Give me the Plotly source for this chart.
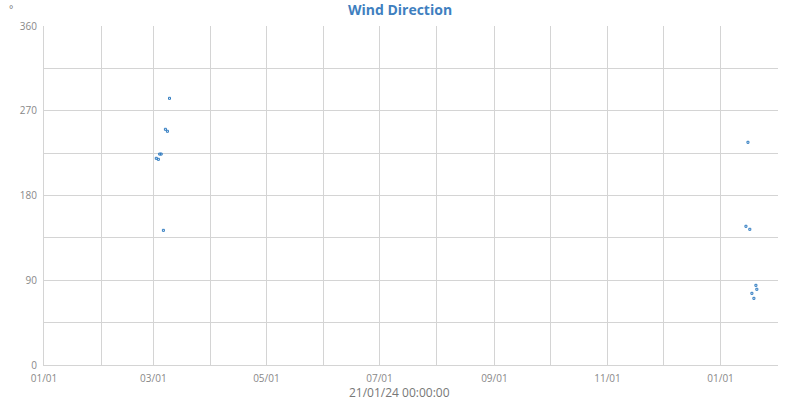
import plotly.graph_objects as go

times = [
    "2023-03-02 14:00", "2023-03-03 17:00", "2023-03-04 10:00", "2023-03-05 05:00",
    "2023-03-06 10:00", "2023-03-07 12:00", "2023-03-08 14:00", "2023-03-09 17:00",
    "2024-01-14 17:00", "2024-01-15 19:00", "2024-01-16 19:00", "2024-01-17 22:00",
    "2024-01-19 00:00", "2024-01-20 02:00", "2024-01-20 14:00",
]
direction = [
    219.5, 218.4, 224, 224,
    143, 250.3, 248.2, 283.2,
    147.3, 236.5, 144.1, 76.1,
    70.8, 84.6, 80.4,
]

y_ticks = [0, 90, 180, 270, 360]

fig = go.Figure()
fig.add_trace(go.Scatter(
    x=times, y=direction, mode="markers",
    marker=dict(symbol="square-open", size=2, color="#2f7bc0", line=dict(width=1, color="#2f7bc0")),
    showlegend=False,
))

grid = "#d4d4d4"
tickfont = dict(family="Open Sans", size=10, color="#888888")
fig.update_layout(
    width=800, height=400,
    paper_bgcolor="white", plot_bgcolor="white",
    margin=dict(l=44, r=22, t=26, b=35, autoexpand=False),
    title=dict(text="<b>Wind Direction</b>", x=0.5, xanchor="center", y=0.975, yanchor="middle",
               automargin=False,
               font=dict(family="Open Sans", size=14, color="#3f7fbf")),
    xaxis=dict(
        type="date", range=["2023-01-01", "2024-02-01"], automargin=False,
        dtick="M2", tick0="2023-01-01", tickformat="%m/%d",
        showgrid=True, gridcolor=grid, gridwidth=1,
        minor=dict(dtick="M1", showgrid=True, gridcolor=grid, gridwidth=1),
        showline=True, linecolor=grid, zeroline=False,
        tickfont=tickfont, ticks="", ticklabelstandoff=4,
    ),
    yaxis=dict(
        range=[0, 360], tickvals=y_ticks, automargin=False,
        showgrid=True, gridcolor=grid, gridwidth=1,
        minor=dict(dtick=45, showgrid=True, gridcolor=grid, gridwidth=1),
        showline=True, linecolor=grid, zeroline=False,
        tickfont=tickfont, ticks="", ticklabelstandoff=4,
    ),
    annotations=[
        dict(text="°", xref="paper", yref="paper", x=-0.045, y=1.05, xanchor="center",
             yanchor="middle", showarrow=False, font=dict(family="Open Sans", size=10, color="#777777")),
        dict(text="21/01/24 00:00:00", xref="paper", yref="paper", x=0.485, y=-0.08, xanchor="center",
             yanchor="middle", showarrow=False, font=dict(family="Open Sans", size=12, color="#777777")),
    ],
)

fig.write_html("out.html", config={"displayModeBar": False},
               post_script="document.body.style.margin='0';")
